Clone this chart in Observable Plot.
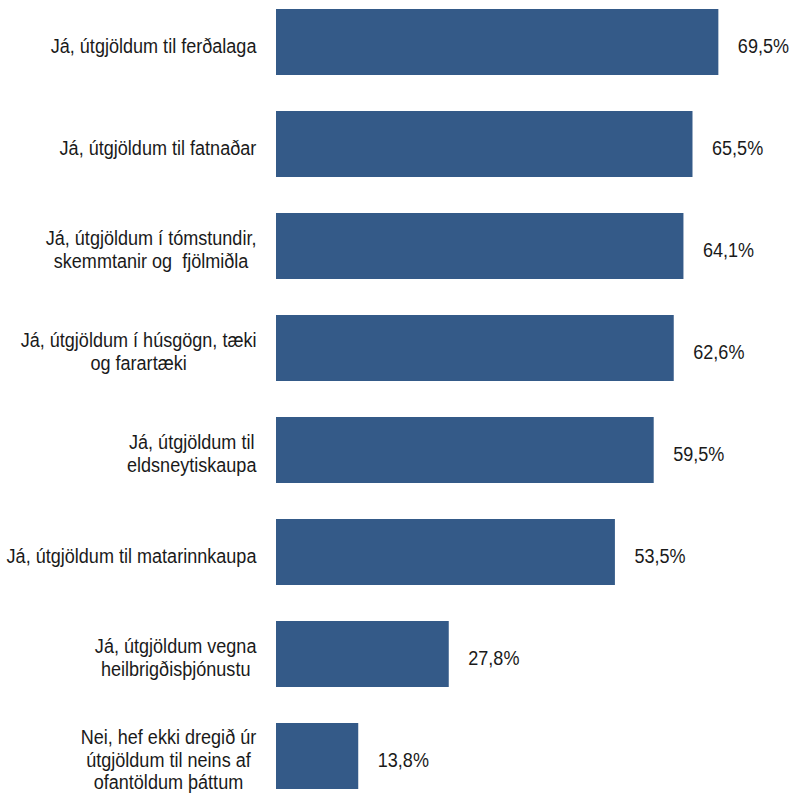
<!DOCTYPE html>
<html>
<head>
<meta charset="utf-8">
<script src="https://cdn.jsdelivr.net/npm/d3@7"></script>
<script src="https://cdn.jsdelivr.net/npm/@observablehq/plot@0.6"></script>
<style>
  html, body { margin: 0; padding: 0; background: #fff; }
  #chart svg { font-family: "Liberation Sans", Arial, sans-serif; }
</style>
</head>
<body>
<div id="chart"></div>
<script>
const categories = [
  "Já, útgjöldum til ferðalaga",
  "Já, útgjöldum til fatnaðar",
  "Já, útgjöldum í tómstundir,\nskemmtanir og  fjölmiðla",
  "Já, útgjöldum í húsgögn, tæki\nog farartæki",
  "Já, útgjöldum til\neldsneytiskaupa",
  "Já, útgjöldum til matarinnkaupa",
  "Já, útgjöldum vegna\nheilbrigðisþjónustu",
  "Nei, hef ekki dregið úr\nútgjöldum til neins af\nofantöldum þáttum"
];
const values = [69.5, 65.5, 64.1, 62.6, 59.5, 53.5, 27.8, 13.8];

const data = categories.map((label, i) => ({label, value: values[i]}));
const fmt = v => v.toFixed(1).replace(".", ",") + "%";
const SX = 0.86; // condensed look of the original lettering

const chart = Plot.plot({
  width: 794,
  height: 797,
  marginLeft: 276,
  marginRight: 0,
  marginTop: 8,
  marginBottom: 6,
  style: {background: "#fff", color: "#1a1a1a"},
  x: {domain: [1.08, 81.2], axis: null},
  y: {domain: categories, axis: null, paddingInner: 0.35, paddingOuter: 0},
  marks: [
    Plot.barX(data, {x: "value", y: "label", fill: "#345a88", clip: true}),
    Plot.text(data, {x: "value", y: "label", text: d => fmt(d.value), textAnchor: "start", dx: 19, dy: 4, fontSize: 21, fill: "#1a1a1a"}),
    Plot.text(data, {y: "label", text: "label", frameAnchor: "left", textAnchor: "end", dx: -20, dy: 3, fontSize: 21, lineHeight: 1.08, fill: "#1a1a1a"})
  ]
});
document.getElementById("chart").append(chart);

function condense(t) {
  let tr = t.getAttribute("transform");
  if (!tr) {
    const x = +t.getAttribute("x") || 0, y = +t.getAttribute("y") || 0;
    t.removeAttribute("x"); t.removeAttribute("y");
    tr = `translate(${x},${y})`;
  }
  t.setAttribute("transform", `${tr} scale(${SX},1)`);
}

const groups = chart.querySelectorAll('g[aria-label="text"]');
// value labels
groups[0].querySelectorAll("text").forEach(condense);
// category labels: right-aligned block, lines centred within it
groups[groups.length - 1].querySelectorAll("text").forEach(t => {
  condense(t);
  const w = t.getBBox().width;
  t.setAttribute("text-anchor", "middle");
  const tspans = t.querySelectorAll("tspan");
  if (tspans.length) tspans.forEach(s => s.setAttribute("x", -w / 2));
  else t.setAttribute("x", -w / 2);
});
</script>
</body>
</html>
